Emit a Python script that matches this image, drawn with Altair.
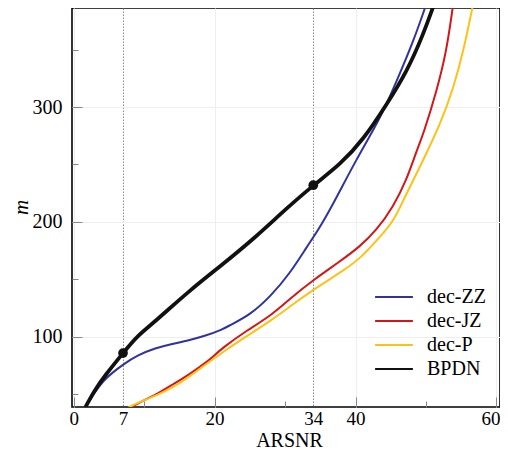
import altair as alt
import pandas as pd

series_names = ["dec-ZZ", "dec-JZ", "dec-P", "BPDN"]
series_colors = ["#30339b", "#d31717", "#fcc214", "#111111"]

zz_x = [1.7, 3.0, 4.2, 5.5, 7.0, 9.0, 11.6, 14.0, 16.3, 18.7, 21.1, 22.2, 25.0, 27.9, 30.7, 33.1, 34.7, 36.6, 40.2, 43.5, 45.8, 48.2, 49.9]
zz_y = [39, 52, 62, 69, 76, 84, 90.4, 94, 97, 101, 106.4, 110.4, 119.1, 135, 155.4, 178.5, 193, 213, 255.6, 290, 322, 357, 387]

jz_x = [8.2, 10.0, 12.0, 14.0, 16.3, 18.7, 19.8, 21.1, 24.4, 28.2, 31.0, 34.0, 37.8, 40.6, 43.0, 45.35, 47.25, 48.7, 49.6, 51.5, 52.9, 53.8]
jz_y = [39, 45, 51, 58.5, 67, 77.4, 83, 90.4, 105, 119.4, 135, 149.5, 165.8, 178.5, 193, 213.3, 236.5, 262.6, 276, 313.6, 348, 387]

p_x = [7.8, 10.0, 12.0, 14.0, 16.3, 18.7, 21.0, 23.4, 28.2, 31.0, 34.0, 38.8, 40.6, 43.5, 45.35, 46.8, 48.2, 49.6, 52.0, 53.9, 55.3, 56.6]
p_y = [39, 45, 50, 55.7, 65, 76, 86, 96.3, 115, 128, 141, 160, 168, 187.2, 200.3, 219.1, 236.5, 253.9, 284.6, 316.5, 348.4, 387]

bpdn_x = [1.67, 3.0, 4.5, 7.0, 9.0, 11.6, 16.3, 21.1, 25.8, 30.0, 34.0, 37.8, 41.1, 44.4, 47.3, 49.6, 51.0]
bpdn_y = [39, 54, 67, 86, 101, 113.6, 139.7, 162.9, 186.7, 210.7, 232, 249.8, 271.6, 302, 331, 363, 387]

marker_x = [7, 34]
marker_y = [86, 232]

x_tick_values = [0, 7, 10, 20, 30, 34, 40, 50, 60]
x_label_values = [0, 7, 20, 34, 40, 60]
y_tick_values = [50, 100, 150, 200, 250, 300, 350]
y_label_values = [100, 200, 300]

rows = []
for name, xs, ys in zip(series_names, [zz_x, jz_x, p_x, bpdn_x], [zz_y, jz_y, p_y, bpdn_y]):
    for i, (a, b) in enumerate(zip(xs, ys)):
        rows.append({"series": name, "x": a, "y": b, "i": i})
df = pd.DataFrame(rows)
markers = pd.DataFrame({"x": marker_x, "y": marker_y})

FONT = "Liberation Serif, Times New Roman, Times, serif"
x_scale = alt.Scale(domain=[-0.24, 60.5], nice=False, zero=False)
y_scale = alt.Scale(domain=[39.1, 386.1], nice=False, zero=False)

xlab_test = " || ".join(f"datum.value == {v}" for v in x_label_values)
ylab_test = " || ".join(f"datum.value == {v}" for v in y_label_values)

x_axis = alt.Axis(
    values=x_tick_values,
    labelExpr=f"({xlab_test}) ? datum.label : ''",
    title="ARSNR",
    titleFont=FONT, titleFontSize=20, titleFontWeight="normal", titleColor="black",
    titleX=217, titleY=39, titleBaseline="alphabetic",
    labelFont=FONT, labelFontSize=19, labelColor="black",
    labelPadding={"condition": {"test": "datum.value % 20 == 0", "value": 12}, "value": 8},
    labelBaseline="top",
    labelAlign={"condition": {"test": "datum.value == 60", "value": "right"}, "value": "center"},
    labelOffset={"condition": {"test": "datum.value == 60", "value": 3.5}, "value": 0},
    domain=False,
    tickColor="#888888", tickWidth=1,
    tickSize=alt.ExprRef("datum.value % 20 == 0 ? -10 : -6"),
    tickOpacity={"condition": {"test": "datum.value == 7 || datum.value == 34", "value": 0}, "value": 1},
    grid=True,
    gridColor={"condition": {"test": "datum.value == 7 || datum.value == 34", "value": "#8a8a8a"}, "value": "#eeeeee"},
    gridDash={"condition": {"test": "datum.value == 7 || datum.value == 34", "value": [1.5, 1.5]}, "value": []},
    gridOpacity={"condition": {"test": "datum.value % 20 == 0 || datum.value == 7 || datum.value == 34", "value": 1}, "value": 0},
    gridWidth=1,
)
y_axis = alt.Axis(
    values=y_tick_values,
    labelExpr=f"({ylab_test}) ? datum.label : ''",
    title="m",
    titleFont=FONT, titleFontSize=21, titleFontStyle="italic", titleFontWeight="normal", titleColor="black",
    titleAngle=270, titleX=-45, titleY=199, titleAlign="center", titleBaseline="alphabetic",
    labelFont=FONT, labelFontSize=20, labelColor="black",
    labelPadding=20,
    domain=False,
    tickColor="#888888", tickWidth=1,
    tickSize=alt.ExprRef("datum.value % 100 == 0 ? -10 : -6"),
    grid=True,
    gridColor="#eeeeee",
    gridOpacity={"condition": {"test": "datum.value % 100 == 0", "value": 1}, "value": 0},
    gridWidth=1,
)

lines = alt.Chart(df).mark_line(interpolate="basis", clip=True).encode(
    x=alt.X("x:Q", scale=x_scale, axis=x_axis),
    y=alt.Y("y:Q", scale=y_scale, axis=y_axis),
    color=alt.Color(
        "series:N",
        scale=alt.Scale(domain=series_names, range=series_colors),
        sort=series_names,
        legend=alt.Legend(
            orient="none", legendX=312, legendY=279, title=None,
            symbolType="M-2.1,0H2.1", symbolSize=324, symbolStrokeWidth=2,
            symbolFillColor="transparent",
            labelFont=FONT, labelFontSize=20, labelColor="black",
            labelOffset=23, rowPadding=4, padding=0,
        ),
    ),
    strokeWidth=alt.condition(alt.datum.series == "BPDN", alt.value(3.8), alt.value(2)),
    order="i:Q",
)

points = alt.Chart(markers).mark_point(filled=True, size=95, opacity=1, color="#111111").encode(
    x=alt.X("x:Q", scale=x_scale),
    y=alt.Y("y:Q", scale=y_scale),
)

chart = alt.layer(lines, points).properties(
    width=428, height=399,
    autosize=alt.AutoSizeParams(type="none"),
    padding={"left": 64, "top": 0, "right": 0, "bottom": 43},
).configure(font=FONT).configure_view(stroke="black", strokeWidth=1.6)

chart.save("out.html", embed_options={"renderer": "svg", "actions": False})
